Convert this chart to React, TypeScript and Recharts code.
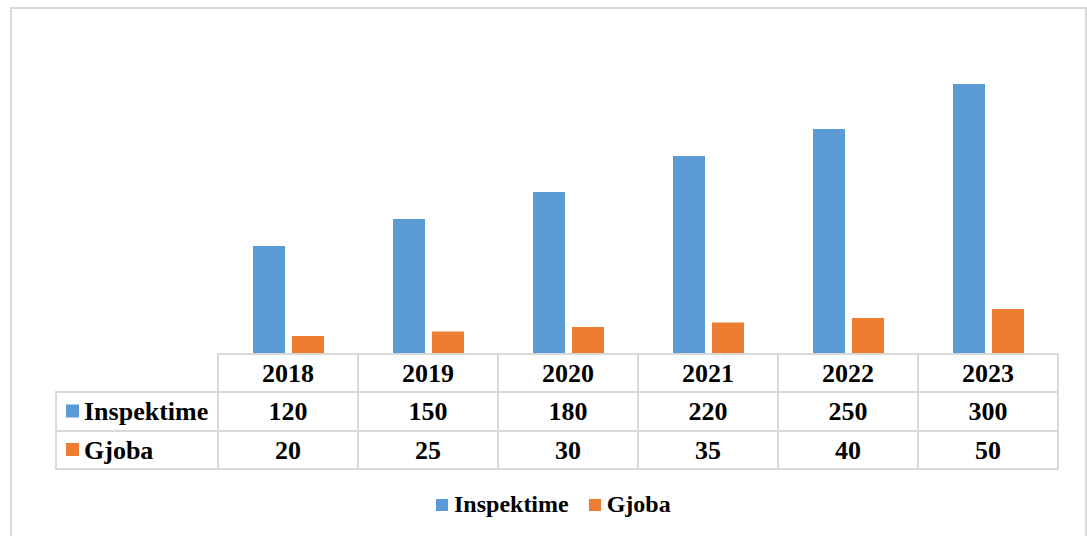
import React from 'react';
import { BarChart, Bar, XAxis, YAxis, Legend } from 'recharts';

const years = ['2018', '2019', '2020', '2021', '2022', '2023'];
const inspektime = [120, 150, 180, 220, 250, 300];
const gjoba = [20, 25, 30, 35, 40, 50];
const seriesNames = ['Inspektime', 'Gjoba'];
const seriesColors = ['#5B9BD5', '#ED7D31'];

const data = years.map((year, i) => ({ year, inspektime: inspektime[i], gjoba: gjoba[i] }));

const W = 1087;
const H = 536;
const PLOT_LEFT = 218;
const PLOT_RIGHT = 1058;
const PLOT_TOP = 39;
const TABLE_TOP = 354;
const ROWS = [354, 392, 431, 469]; // row boundaries of the data table
const LABEL_LEFT = 56;
const COL_W = (PLOT_RIGHT - PLOT_LEFT) / years.length;
const BORDER = '#D9D9D9';
const FONT = '"Liberation Serif", "Times New Roman", serif';

const rowValues = [years, inspektime.map(String), gjoba.map(String)];

// one column of the data table, drawn at the category position from the x scale
const TableTick = (props: any) => {
  const { x, payload } = props;
  const i = payload.index;
  const left = x - COL_W / 2;
  return (
    <g>
      {rowValues.map((vals, r) => {
        const top = ROWS[r];
        const h = ROWS[r + 1] - top;
        return (
          <g key={r}>
            <rect x={left} y={top} width={COL_W} height={h} fill="none" stroke={BORDER} strokeWidth={2} />
            <text
              x={x}
              y={top + h / 2 + 8.5}
              textAnchor="middle"
              fontFamily={FONT}
              fontWeight="bold"
              fontSize={26}
              fill="#000"
            >
              {vals[i]}
            </text>
          </g>
        );
      })}
    </g>
  );
};

const LegendContent = () => (
  <div style={{ display: 'flex', alignItems: 'center', fontFamily: FONT, fontWeight: 'bold', fontSize: 24, color: '#000', whiteSpace: 'nowrap' }}>
    {seriesNames.map((n, i) => (
      <div key={n} style={{ display: 'flex', alignItems: 'center', marginRight: i === 0 ? 20 : 0 }}>
        <span style={{ width: 12, height: 12, background: seriesColors[i], display: 'inline-block', marginRight: 6 }} />
        <span>{n}</span>
      </div>
    ))}
  </div>
);

export default function App() {
  return (
    <div style={{ position: 'absolute', left: 0, top: 0, width: W, height: H, overflow: 'hidden', background: '#fff' }}>
      <div
        style={{
          position: 'absolute',
          left: 10,
          top: 7,
          width: W - 10,
          height: 600,
          border: `2px solid ${BORDER}`,
          boxSizing: 'border-box',
        }}
      />
      <div style={{ position: 'absolute', left: 0, top: 0 }}>
        <BarChart
          width={W}
          height={H}
          data={data}
          margin={{ top: PLOT_TOP, left: PLOT_LEFT, right: W - PLOT_RIGHT, bottom: H - ROWS[3] }}
          barSize={32}
          barGap={7}
        >
          <XAxis
            dataKey="year"
            height={ROWS[3] - TABLE_TOP}
            tickLine={false}
            axisLine={false}
            tickSize={0}
            tickMargin={0}
            interval={0}
            tick={<TableTick />}
          />
          <YAxis hide domain={[0, 350]} />
          <Legend
            layout="horizontal"
            verticalAlign="middle"
            align="center"
            content={<LegendContent />}
            wrapperStyle={{ left: 436, top: 491, width: 'auto' }}
          />
          <Bar dataKey="inspektime" name={seriesNames[0]} fill={seriesColors[0]} isAnimationActive={false} />
          <Bar dataKey="gjoba" name={seriesNames[1]} fill={seriesColors[1]} isAnimationActive={false} />
        </BarChart>
      </div>
      {/* row labels of the data table */}
      <svg width={W} height={H} style={{ position: 'absolute', left: 0, top: 0, pointerEvents: 'none' }}>
        {seriesNames.map((n, i) => {
          const top = ROWS[i + 1];
          const h = ROWS[i + 2] - top;
          return (
            <g key={n}>
              <rect x={LABEL_LEFT} y={top} width={PLOT_LEFT - LABEL_LEFT} height={h} fill="none" stroke={BORDER} strokeWidth={2} />
              <rect x={66} y={top + h / 2 - 7} width={13} height={13} fill={seriesColors[i]} />
              <text x={84} y={top + h / 2 + 8.5} fontFamily={FONT} fontWeight="bold" fontSize={26} fill="#000">
                {n}
              </text>
            </g>
          );
        })}
      </svg>
    </div>
  );
}
